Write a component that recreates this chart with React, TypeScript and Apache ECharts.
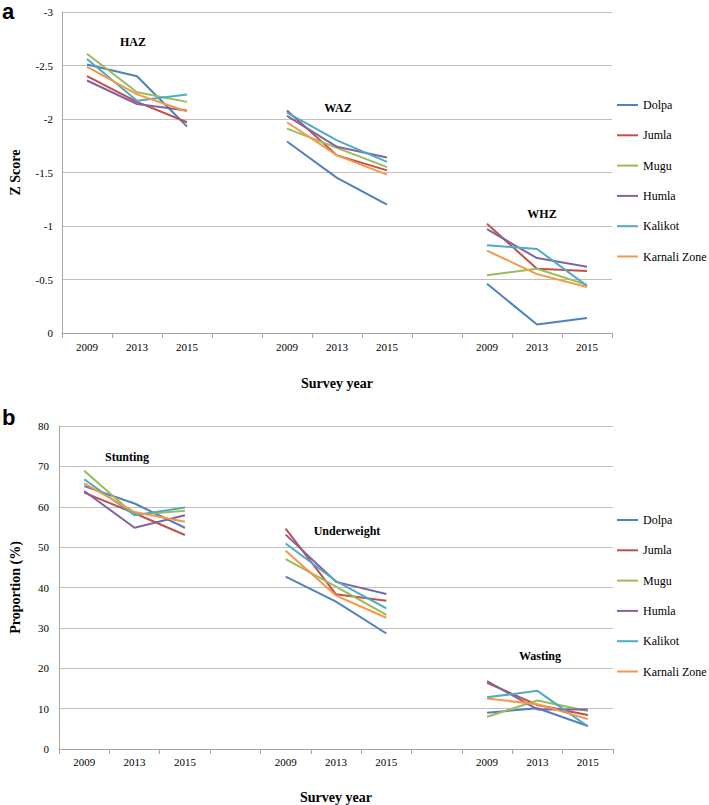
import React, { useEffect, useRef } from "react";
import * as echarts from "echarts";

const categories = ["2009", "2013", "2015", "", "2009", "2013", "2015", "", "2009", "2013", "2015"];
const districts = ["Dolpa", "Jumla", "Mugu", "Humla", "Kalikot", "Karnali Zone"];
const colors = ["#4F81BD", "#C0504D", "#9BBB59", "#8064A2", "#4BACC6", "#F79646"];

const zTicks = { min: -3, max: 0, interval: 0.5 };
const pTicks = { min: 0, max: 80, interval: 10 };

// Z scores: HAZ (2009, 2013, 2015), gap, WAZ, gap, WHZ
const dolpaZ = [-2.51, -2.4, -1.93, null, -1.79, -1.45, -1.2, null, -0.46, -0.08, -0.14];
const jumlaZ = [-2.4, -2.16, -1.97, null, -2.08, -1.66, -1.52, null, -1.02, -0.6, -0.58];
const muguZ = [-2.61, -2.25, -2.16, null, -1.91, -1.73, -1.55, null, -0.54, -0.6, -0.45];
const humlaZ = [-2.36, -2.14, -2.08, null, -2.03, -1.74, -1.64, null, -0.97, -0.7, -0.62];
const kalikotZ = [-2.56, -2.17, -2.23, null, -2.06, -1.8, -1.6, null, -0.82, -0.785, -0.44];
const karnaliZ = [-2.49, -2.23, -2.07, null, -1.97, -1.66, -1.48, null, -0.77, -0.55, -0.43];

// Proportions (%): Stunting, gap, Underweight, gap, Wasting
const dolpaP = [65.1, 60.8, 54.8, null, 42.7, 36.5, 28.6, null, 9.0, 10.1, 5.7];
const jumlaP = [63.5, 58.4, 53.0, null, 54.6, 38.3, 36.7, null, 16.4, 10.9, 8.4];
const muguP = [68.9, 58.0, 59.0, null, 47.0, 40.2, 33.2, null, 8.0, 12.0, 9.4];
const humlaP = [63.9, 54.8, 57.9, null, 53.1, 41.4, 38.4, null, 16.8, 9.8, 9.8];
const kalikotP = [66.8, 57.9, 59.8, null, 50.9, 41.6, 34.8, null, 12.8, 14.4, 5.6];
const karnaliP = [65.8, 58.7, 56.3, null, 49.1, 38.0, 32.5, null, 12.5, 11.1, 7.4];

const zSeries = [dolpaZ, jumlaZ, muguZ, humlaZ, kalikotZ, karnaliZ];
const pSeries = [dolpaP, jumlaP, muguP, humlaP, kalikotP, karnaliP];

const groupTitlesA = ["HAZ", "WAZ", "WHZ"];
const groupTitlesB = ["Stunting", "Underweight", "Wasting"];

const SERIF = "Liberation Serif";
const SANS = "Liberation Sans";

export default function App() {
  const ref = useRef<HTMLDivElement>(null);
  useEffect(() => {
    document.body.style.margin = "0";
    const chart = echarts.init(ref.current!, null, { renderer: "svg" });
    const gridColor = "#BFBFBF";
    const axisColor = "#A6A6A6";

    const xAxisBase = (gridIndex: number, nameGap: number, labelMargin: number) => ({
      type: "category",
      gridIndex,
      data: categories,
      boundaryGap: true,
      name: "Survey year",
      nameLocation: "middle",
      nameGap,
      nameTextStyle: { fontFamily: SERIF, fontWeight: "bold", fontSize: 14, color: "#000" },
      axisLine: { onZero: false, lineStyle: { color: axisColor, width: 1 } },
      axisTick: { show: true, interval: 0, length: 5, lineStyle: { color: axisColor } },
      axisLabel: { interval: 0, margin: labelMargin, fontFamily: SERIF, fontSize: 11, color: "#000" },
      splitLine: { show: false },
    });

    const series: any[] = [];
    zSeries.forEach((d, i) => {
      series.push({
        name: districts[i],
        type: "line",
        xAxisIndex: 0,
        yAxisIndex: 0,
        data: d,
        symbol: "none",
        connectNulls: false,
        lineStyle: { color: colors[i], width: 2 },
        itemStyle: { color: colors[i] },
      });
    });
    pSeries.forEach((d, i) => {
      series.push({
        name: districts[i],
        type: "line",
        xAxisIndex: 1,
        yAxisIndex: 1,
        data: d,
        symbol: "none",
        connectNulls: false,
        lineStyle: { color: colors[i], width: 2 },
        itemStyle: { color: colors[i] },
      });
    });

    const legendBase = (top: number) => ({
      data: districts,
      orient: "vertical",
      left: 617,
      top,
      padding: 0,
      itemWidth: 21,
      itemHeight: 14,
      itemGap: 18.3,
      icon: "path://M0,6 L21,6 L21,8 L0,8 Z",
      textStyle: { fontFamily: SERIF, fontSize: 12, color: "#000" },
    });

    const titleText = (text: string, x: number, y: number) => ({
      type: "text",
      x,
      y,
      style: {
        text,
        fontFamily: SERIF,
        fontWeight: "bold",
        fontSize: 12,
        fill: "#000",
        align: "center",
        verticalAlign: "middle",
      },
    });

    chart.setOption({
      animation: false,
      color: colors,
      textStyle: { fontFamily: SERIF },
      grid: [
        { left: 56, top: 12, width: 556, height: 321 },
        { left: 52, top: 426, width: 561, height: 323 },
      ],
      xAxis: [xAxisBase(0, 43, 8), xAxisBase(1, 41, 7)],
      yAxis: [
        {
          type: "value",
          gridIndex: 0,
          inverse: true,
          min: zTicks.min,
          max: zTicks.max,
          interval: zTicks.interval,
          name: "Z Score",
          nameLocation: "middle",
          nameRotate: 90,
          nameGap: 40,
          nameTextStyle: { fontFamily: SERIF, fontWeight: "bold", fontSize: 14, color: "#000" },
          axisLine: { show: true, lineStyle: { color: axisColor } },
          axisTick: { show: false },
          axisLabel: { margin: 9, fontFamily: SERIF, fontSize: 11, color: "#000" },
          splitLine: { show: true, lineStyle: { color: gridColor, width: 1 } },
        },
        {
          type: "value",
          gridIndex: 1,
          min: pTicks.min,
          max: pTicks.max,
          interval: pTicks.interval,
          name: "Proportion (%)",
          nameLocation: "middle",
          nameRotate: 90,
          nameGap: 37,
          nameTextStyle: { fontFamily: SERIF, fontWeight: "bold", fontSize: 14, color: "#000" },
          axisLine: { show: true, lineStyle: { color: axisColor } },
          axisTick: { show: false },
          axisLabel: { margin: 10, fontFamily: SERIF, fontSize: 11, color: "#000" },
          splitLine: { show: true, lineStyle: { color: gridColor, width: 1 } },
        },
      ],
      legend: [legendBase(99), legendBase(514)],
      graphic: [
        {
          type: "text",
          x: 2,
          y: 0,
          style: { text: "a", fontFamily: SANS, fontWeight: "bold", fontSize: 22, fill: "#000" },
        },
        {
          type: "text",
          x: 2,
          y: 406,
          style: { text: "b", fontFamily: SANS, fontWeight: "bold", fontSize: 22, fill: "#000" },
        },
        titleText(groupTitlesA[0], 133, 42),
        titleText(groupTitlesA[1], 338, 108),
        titleText(groupTitlesA[2], 542, 214),
        titleText(groupTitlesB[0], 127, 457),
        titleText(groupTitlesB[1], 347, 531),
        titleText(groupTitlesB[2], 540, 656),
      ],
      series,
    });
    return () => chart.dispose();
  }, []);
  return <div ref={ref} style={{ position: "fixed", left: 0, top: 0, width: 709, height: 805, background: "#fff" }} />;
}
